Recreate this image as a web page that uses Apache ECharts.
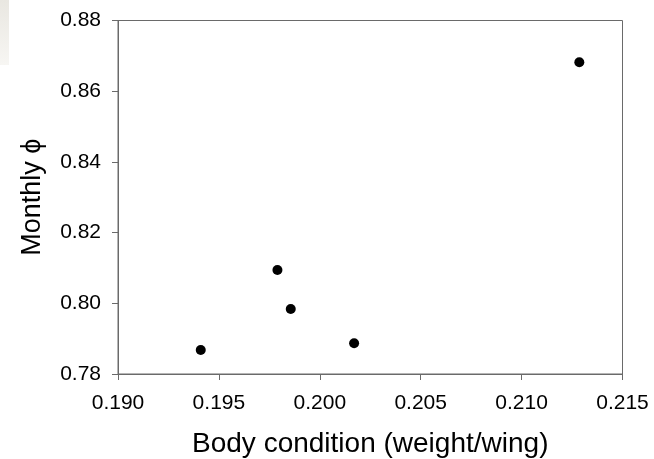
<!DOCTYPE html>
<html>
<head>
<meta charset="utf-8">
<script src="https://cdn.jsdelivr.net/npm/echarts@6/dist/echarts.min.js"></script>
<style>html,body{margin:0;padding:0;background:#fff}#c{width:654px;height:459px}</style>
</head>
<body>
<div id="c"></div>
<script>
const bodyCondition = [0.1941, 0.1979, 0.19856, 0.2017, 0.21286];
const monthlyPhi = [0.7868, 0.8094, 0.7984, 0.7887, 0.8682];
const xTicks = [0.190, 0.195, 0.200, 0.205, 0.210, 0.215];
const yTicks = [0.78, 0.80, 0.82, 0.84, 0.86, 0.88];

const points = bodyCondition.map((x, i) => [x, monthlyPhi[i]]);
const chart = echarts.init(document.getElementById('c'), null, {renderer: 'canvas'});
const font = 'Liberation Sans, Arial, sans-serif';
chart.setOption({
  animation: false,
  backgroundColor: '#fff',
  graphic: [{
    type: 'rect', left: 0, top: 0, z: -10,
    shape: {width: 9, height: 65},
    style: {fill: new echarts.graphic.LinearGradient(0, 0, 0, 1, [
      {offset: 0, color: '#e9e7e1'}, {offset: 1, color: '#f7f6f3'}])}
  }],
  grid: {left: 118, right: 31.5, top: 20.5, bottom: 85, show: true,
         outerBoundsMode: 'none', containLabel: false,
         borderColor: '#6a6a6a', borderWidth: 1, backgroundColor: 'transparent'},
  xAxis: {
    type: 'value', min: xTicks[0], max: xTicks[xTicks.length - 1], interval: 0.005,
    name: 'Body condition (weight/wing)', nameLocation: 'middle', nameGap: 56,
    nameTextStyle: {fontSize: 28, color: '#000', fontFamily: font},
    axisLine: {show: true, lineStyle: {color: '#6a6a6a', width: 1}},
    axisTick: {show: true, inside: false, length: 6, lineStyle: {color: '#6a6a6a'}},
    splitLine: {show: false},
    axisLabel: {fontSize: 21, color: '#000', fontFamily: font, margin: 19,
                formatter: v => v.toFixed(3)}
  },
  yAxis: {
    type: 'value', min: yTicks[0], max: yTicks[yTicks.length - 1], interval: 0.02,
    name: 'Monthly \u03d5', nameLocation: 'middle', nameGap: 72,
    nameTextStyle: {fontSize: 27, color: '#000', fontFamily: font},
    axisLine: {show: true, lineStyle: {color: '#6a6a6a', width: 1}},
    axisTick: {show: true, inside: false, length: 6, lineStyle: {color: '#6a6a6a'}},
    splitLine: {show: false},
    axisLabel: {fontSize: 21, color: '#000', fontFamily: font, margin: 17,
                formatter: v => v.toFixed(2)}
  },
  series: [{
    type: 'scatter', data: points, symbol: 'circle', symbolSize: 10,
    itemStyle: {color: '#000', opacity: 1}
  }]
});
</script>
</body>
</html>
